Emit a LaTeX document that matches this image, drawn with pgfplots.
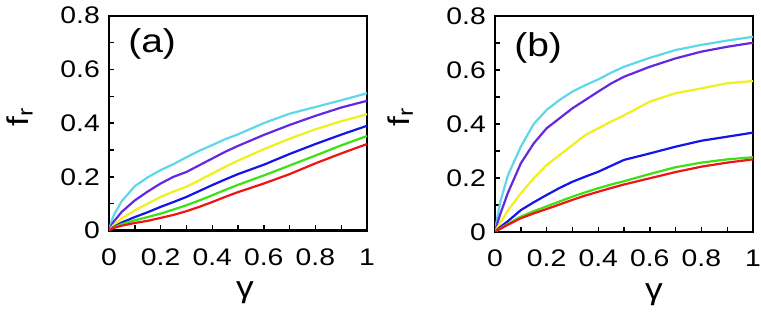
\documentclass[border=0pt]{standalone}
\usepackage{fontspec}
\setmainfont{Liberation Sans}
\newfontfamily\widefont[FakeStretch=1.18]{Liberation Sans}
\usepackage{pgfplots}
\pgfplotsset{compat=1.18}
\usepackage{pgfplotstable}
\definecolor{cC}{RGB}{95,215,235}
\definecolor{cP}{RGB}{100,40,225}
\definecolor{cY}{RGB}{240,240,30}
\definecolor{cB}{RGB}{20,20,235}
\definecolor{cG}{RGB}{60,225,20}
\definecolor{cR}{RGB}{240,20,20}

\pgfplotstableread{
x    c     p     yy    b     g     r
0    0     0     0     0     0     0
0.01 0.035 0.020 0.012 0.008 0.007 0.006
0.02 0.060 0.035 0.022 0.014 0.012 0.010
0.05 0.110 0.070 0.045 0.030 0.024 0.018
0.10 0.165 0.112 0.075 0.050 0.038 0.028
0.15 0.198 0.145 0.100 0.068 0.050 0.036
0.20 0.225 0.175 0.125 0.088 0.063 0.047
0.25 0.247 0.200 0.145 0.106 0.078 0.058
0.30 0.273 0.218 0.163 0.125 0.094 0.072
0.35 0.297 0.243 0.187 0.147 0.112 0.088
0.40 0.318 0.268 0.212 0.169 0.131 0.106
0.45 0.340 0.293 0.237 0.190 0.151 0.125
0.50 0.358 0.315 0.260 0.210 0.170 0.143
0.60 0.400 0.356 0.303 0.245 0.205 0.175
0.70 0.435 0.393 0.342 0.285 0.242 0.210
0.80 0.460 0.427 0.377 0.322 0.279 0.250
0.90 0.485 0.458 0.407 0.357 0.317 0.287
1.00 0.511 0.483 0.433 0.390 0.352 0.322
}\dataA

\pgfplotstableread{
x    c     p     yy    b     g     r
0    0     0     0     0     0     0
0.01 0.060 0.035 0.018 0.010 0.007 0.006
0.02 0.110 0.065 0.033 0.018 0.013 0.011
0.05 0.210 0.145 0.080 0.040 0.030 0.027
0.10 0.316 0.254 0.143 0.081 0.057 0.051
0.15 0.400 0.328 0.199 0.110 0.077 0.069
0.20 0.452 0.384 0.248 0.137 0.095 0.085
0.25 0.489 0.421 0.285 0.163 0.113 0.102
0.30 0.520 0.458 0.322 0.186 0.131 0.119
0.35 0.544 0.489 0.359 0.205 0.147 0.135
0.40 0.565 0.520 0.384 0.223 0.162 0.149
0.45 0.590 0.550 0.409 0.245 0.176 0.163
0.50 0.612 0.575 0.432 0.267 0.188 0.176
0.60 0.645 0.612 0.483 0.291 0.215 0.199
0.70 0.674 0.643 0.514 0.316 0.240 0.222
0.80 0.693 0.668 0.532 0.338 0.257 0.242
0.90 0.709 0.686 0.551 0.353 0.269 0.257
1.00 0.723 0.701 0.559 0.368 0.277 0.269
}\dataB

\pgfplotsset{
  myax/.style={
    scale only axis, width=258bp,
    anchor=south west,
    xmin=0, xmax=1, ymin=0, ymax=0.8,
    xtick={0,0.2,0.4,0.6,0.8,1},
    ytick={0,0.2,0.4,0.6,0.8},
    minor x tick num=1, minor y tick num=1,
    xtick pos=bottom, ytick pos=left,
    tick align=inside,
    major tick length=5bp, minor tick length=5bp,
    every tick/.style={black, line width=1.4bp},
    axis line style={line width=2.4bp},
    /pgf/number format/assume math mode=true,
    tick label style={font=\widefont\fontsize{24bp}{27bp}\selectfont},
    xticklabel style={anchor=base, inner sep=0pt, yshift=-34.5bp},
    yticklabel style={anchor=east, inner sep=0pt, xshift=-9bp},
    label style={font=\widefont\fontsize{30bp}{34bp}\selectfont},
    xlabel={γ},
    ylabel={f\textsubscript{r}},
    every axis plot/.append style={line width=2.2bp, no markers},
  }
}

\begin{document}
\begin{tikzpicture}
\path[use as bounding box] (0,0) rectangle (761bp,318bp);

\begin{axis}[myax, at={(109bp,87.5bp)}, height=214.8bp,
  xlabel style={at={(axis description cs:0.527,-0.29)}, anchor=center},
  ylabel style={at={(axis description cs:-0.345,0.528)}, anchor=center}]
\addplot[cC] table[x=x,y=c] {\dataA};
\addplot[cP] table[x=x,y=p] {\dataA};
\addplot[cY] table[x=x,y=yy] {\dataA};
\addplot[cB] table[x=x,y=b] {\dataA};
\addplot[cG] table[x=x,y=g] {\dataA};
\addplot[cR] table[x=x,y=r] {\dataA};
\node[font=\widefont\fontsize{33bp}{40bp}\selectfont] at (rel axis cs:0.167,0.868) {(a)};
\end{axis}

\begin{axis}[myax, at={(495bp,86bp)}, height=216bp,
  xlabel style={at={(axis description cs:0.616,-0.29)}, anchor=center},
  ylabel style={at={(axis description cs:-0.368,0.532)}, anchor=center}]
\addplot[cC] table[x=x,y=c] {\dataB};
\addplot[cP] table[x=x,y=p] {\dataB};
\addplot[cY] table[x=x,y=yy] {\dataB};
\addplot[cB] table[x=x,y=b] {\dataB};
\addplot[cG] table[x=x,y=g] {\dataB};
\addplot[cR] table[x=x,y=r] {\dataB};
\node[font=\widefont\fontsize{33bp}{40bp}\selectfont] at (rel axis cs:0.167,0.852) {(b)};
\end{axis}
\end{tikzpicture}
\end{document}
